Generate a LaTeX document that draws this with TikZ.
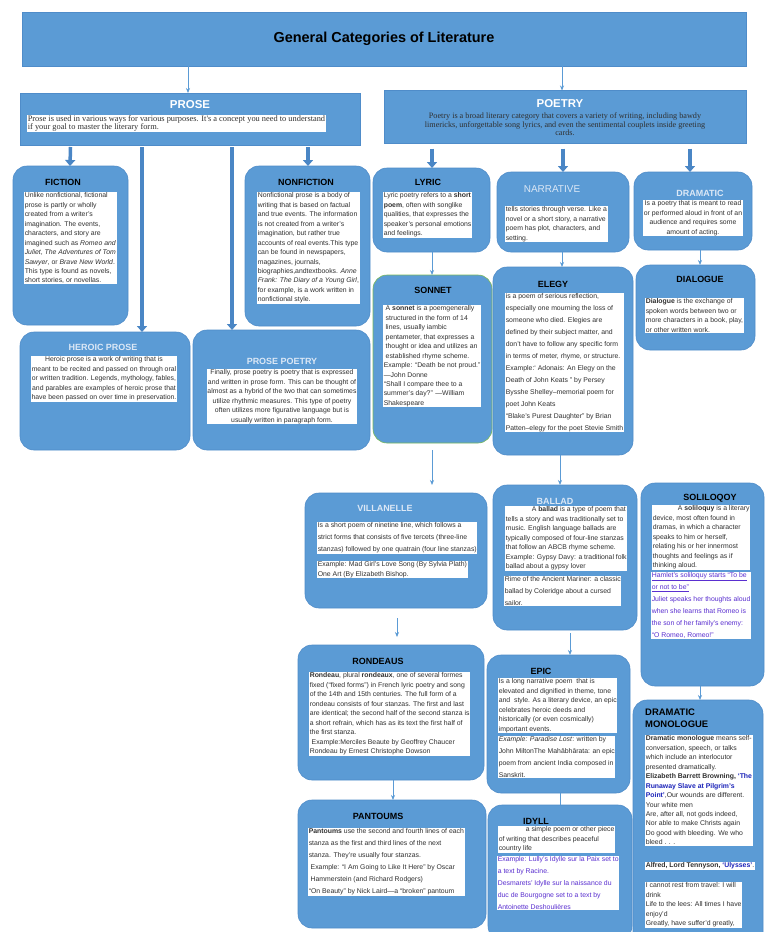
\documentclass[tikz,border=0pt]{standalone}
\usepackage{fontspec}
\setmainfont{Liberation Sans}
\newfontfamily\serifx{Liberation Serif}
\usetikzlibrary{arrows.meta}
\definecolor{boxblue}{HTML}{5B9BD5}
\definecolor{boxline}{HTML}{4F8CC9}
\definecolor{arrblue}{HTML}{4A86C5}
\definecolor{lighttitle}{HTML}{DCE8F6}
\definecolor{txt}{HTML}{303030}
\definecolor{linkpurple}{HTML}{5A2FD0}
\definecolor{linkblue}{HTML}{1A22B8}
\newcommand\mkbox[5]{\node[box,minimum width={(#4-#2)*1bp},minimum height={(#5-#3)*1bp}] (#1) at ({(#2+#4)/2},{(#3+#5)/2}) {};}
\begin{document}
\begin{tikzpicture}[x=1bp,y=-1bp,
  box/.style={draw=boxline,fill=boxblue,rounded corners=14bp,inner sep=0pt,outer sep=0pt,line width=0.6bp},
  sqbox/.style={draw=boxline,fill=boxblue,inner sep=0pt,outer sep=0pt,line width=0.6bp},
  ttl/.style={font=\fontsize{9}{10.5}\selectfont\bfseries,text=black,inner sep=0pt},
  lttl/.style={ttl,text=lighttitle},
  body/.style={font=\fontsize{6.9}{9.5}\selectfont,text=txt,fill=white,inner sep=0.6pt,align=left,anchor=north west},
  cbody/.style={body,align=center,anchor=north},
  sbody/.style={body,font=\fontsize{6.9}{12}\selectfont},
  thin/.style={draw=boxblue,line width=0.7bp,-{Stealth[length=5bp,width=4bp]}},
  thick/.style={draw=arrblue,line width=3.5bp,-{Triangle[length=6bp,width=10bp]}}]
\useasboundingbox (0,0) rectangle (768,932);
\fill[white] (0,0) rectangle (768,932);
% title and top level
\node[sqbox,minimum width=724bp,minimum height=54bp] (title) at (384,39) {};
\node[ttl,font=\fontsize{14.5}{16}\selectfont\bfseries] (titletxt) at (384,39) {General Categories of Literature};
\node[sqbox,minimum width=340bp,minimum height=52bp] (prose) at (190,119) {};
\node[ttl,text=white,font=\fontsize{11.5}{13}\selectfont\bfseries] (prosettl) at (190,105) {PROSE};
\node[body,font=\serifx\fontsize{8.4}{8.2}\selectfont] (prosetxt) at (27,115) {Prose is used in various ways for various purposes. It's a concept you need to understand\\if your goal to master the literary form.};
\node[sqbox,minimum width=362bp,minimum height=53bp] (poetry) at (565,117) {};
\node[ttl,text=white,font=\fontsize{11.5}{13}\selectfont\bfseries] (poetryttl) at (560,104) {POETRY};
\node[cbody,font=\serifx\fontsize{8.2}{8.6}\selectfont,fill=none,text=txt] (poetrytxt) at (565,112) {Poetry is a broad literary category that covers a variety of writing, including bawdy\\limericks, unforgettable song lyrics, and even the sentimental couplets inside greeting\\cards.};
\draw[thin] (title.south -| 188,0) -- (prose.north -| 188,0);
\draw[thin] (title.south -| 562,0) -- (poetry.north -| 562,0);

% prose children
\mkbox{fiction}{13}{166}{128}{325}
\node[ttl] (fictionttl) at (63,182) {FICTION};
\node[body] (fictiontxt) at (24,192) {Unlike nonfictional, fictional\\prose is partly or wholly\\created from a writer's\\imagination. The events,\\characters, and story are\\imagined such as \textit{Romeo and}\\\textit{Juliet}, \textit{The Adventures of Tom}\\\textit{Sawyer}, or \textit{Brave New World}.\\This type is found as novels,\\short stories, or novellas.};
\mkbox{nonfiction}{245}{166}{370}{326}
\node[ttl] (nonfictionttl) at (306,182) {NONFICTION};
\node[body] (nonfictiontxt) at (257,192) {Nonfictional prose is a body of\\writing that is based on factual\\and true events. The information\\is not created from a writer's\\imagination, but rather true\\accounts of real events.This type\\can be found in newspapers,\\magazines, journals,\\biographies,andtextbooks. \textit{Anne}\\\textit{Frank: The Diary of a Young Girl},\\for example, is a work written in\\nonfictional style.};
\mkbox{heroic}{20}{332}{190}{450}
\node[lttl] (heroicttl) at (103,347) {HEROIC PROSE};
\node[cbody] (heroictxt) at (104,356) {Heroic prose is a work of writing that is\\meant to be recited and passed on through oral\\or written tradition. Legends, mythology, fables,\\and parables are examples of heroic prose that\\have been passed on over time in preservation.};
\mkbox{prosepoetry}{193}{330}{370}{450}
\node[lttl] (ppttl) at (282,361) {PROSE POETRY};
\node[cbody] (pptxt) at (282,369) {Finally, prose poetry is poetry that is expressed\\and written in prose form. This can be thought of\\almost as a hybrid of the two that can sometimes\\utilize rhythmic measures. This type of poetry\\often utilizes more figurative language but is\\usually written in paragraph form.};
\draw[thick] (prose.south -| fiction.north) ++(0,2) -- (fiction.north -| 70,0);
\draw[thick] (prose.south -| 308,0) ++(0,2) -- (nonfiction.north -| 308,0);
\draw[thick] (prose.south -| 142,0) ++(0,2) -- (heroic.north -| 142,0);
\draw[thick] (prose.south -| 232,0) ++(0,2) -- (prosepoetry.north -| 232,0);

% poetry children
\mkbox{lyric}{373}{168}{490}{252}
\node[ttl] (lyricttl) at (428,182) {LYRIC};
\node[body] (lyrictxt) at (383,192) {Lyric poetry refers to a \textbf{short}\\\textbf{poem}, often with songlike\\qualities, that expresses the\\speaker's personal emotions\\and feelings.};
\mkbox{narrative}{497}{172}{629}{252}
\node[lttl,font=\fontsize{10}{11}\selectfont] (narrttl) at (552,189) {NARRATIVE};
\node[body] (narrtxt) at (505,206) {tells stories through verse. Like a\\novel or a short story, a narrative\\poem has plot, characters, and\\setting.};
\mkbox{dramatic}{634}{172}{752}{250}
\node[lttl] (dramttl) at (700,193) {DRAMATIC};
\node[cbody] (dramtxt) at (693,200) {Is a poetry that is meant to read\\or performed aloud in front of an\\audience and requires some\\amount of acting.};
\draw[thick] (poetry.south -| 432,0) ++(0,5) -- (lyric.north -| 432,0);
\draw[thick] (poetry.south -| 563,0) ++(0,5) -- (narrative.north -| 563,0);
\draw[thick] (poetry.south -| 690,0) ++(0,5) -- (dramatic.north -| 690,0);

\node[box,draw={rgb,255:red,120;green,185;blue,90},minimum width=119bp,minimum height=168bp] (sonnet) at (432.5,359) {};
\node[ttl] (sonnetttl) at (433,290) {SONNET};
\node[body] (sonnettxt) at (383,305) {\ A \textbf{sonnet} is a poemgenerally\\\ structured in the form of 14\\\ lines, usually iambic\\\ pentameter, that expresses a\\\ thought or idea and utilizes an\\\ established rhyme scheme.\\Example: ``Death be not proud.''\\---John Donne\\``Shall I compare thee to a\\summer's day?'' ---William\\Shakespeare};
\mkbox{elegy}{493}{267}{633}{455}
\node[ttl] (elegyttl) at (553,284) {ELEGY};
\node[sbody] (elegytxt) at (505,293) {is a poem of serious reflection,\\especially one mourning the loss of\\someone who died. Elegies are\\defined by their subject matter, and\\don't have to follow any specific form\\in terms of meter, rhyme, or structure.\\Example:` Adonais: An Elegy on the\\Death of John Keats '' by Persey\\Bysshe Shelley--memorial poem for\\poet John Keats\\``Blake's Purest Daughter'' by Brian\\Patten--elegy for the poet Stevie Smith};
\mkbox{dialogue}{636}{265}{755}{350}
\node[ttl] (dialttl) at (700,279) {DIALOGUE};
\node[body] (dialtxt) at (645,298) {\textbf{Dialogue} is the exchange of\\spoken words between two or\\more characters in a book, play,\\or other written work.};
\draw[thin] (lyric.south -| 432,0) -- (sonnet.north -| 432,0);
\draw[thin] (narrative.south -| 562,0) -- (elegy.north -| 562,0);
\draw[thin] (dramatic.south -| 700,0) -- (dialogue.north -| 700,0);

% third level
\mkbox{villanelle}{305}{493}{487}{608}
\node[lttl] (villttl) at (385,508) {VILLANELLE};
\node[sbody] (villtxt) at (317,522) {Is a short poem of ninetine line, which follows a\\strict forms that consists of five tercets (three-line\\stanzas) followed by one quatrain (four line stanzas)};
\node[body] (villtxt2) at (317,561) {Example: Mad Girl's Love Song (By Sylvia Plath)\\One Art (By Elizabeth Bishop.};
\mkbox{ballad}{493}{485}{637}{630}
\node[lttl] (balladttl) at (555,501) {BALLAD};
\node[body] (balladtxt) at (505,506) {\hspace{26bp}A \textbf{ballad} is a type of poem that\\tells a story and was traditionally set to\\music. English language ballads are\\typically composed of four-line stanzas\\that follow an ABCB rhyme scheme.\\Example: Gypsy Davy: a traditional folk\\ballad about a gypsy lover};
\node[sbody] (balladtxt2) at (504,576) {Rime of the Ancient Mariner: a classic\\ballad by Coleridge about a cursed\\sailor.};
\mkbox{soliloquy}{641}{483}{764}{686}
\node[ttl] (solttl) at (710,498) {SOLILOQOY};
\node[body] (soltxt) at (652,505) {\hspace{25bp}A \textbf{soliloquy} is a literary\\device, most often found in\\dramas, in which a character\\speaks to him or herself,\\relating his or her innermost\\thoughts and feelings as if\\thinking aloud.};
\node[sbody,text=linkpurple] (soltxt2) at (651,572) {\underline{Hamlet's soliloquy starts ``To be}\\\underline{or not to be''}\\Juliet speaks her thoughts aloud\\when she learns that Romeo is\\the son of her family's enemy:\\``O Romeo, Romeo!''};
\draw[thin] (sonnet.south -| 432,0) ++(0,7) -- ++(0,35);
\draw[thin] (elegy.south -| 560,0) -- (ballad.north -| 560,0);

\mkbox{rondeaus}{298}{645}{484}{780}
\node[ttl] (rondttl) at (378,661) {RONDEAUS};
\node[body] (rondtxt) at (309,672) {\textbf{Rondeau}, plural \textbf{rondeaux}, one of several formes\\fixed (``fixed forms'') in French lyric poetry and song\\of the 14th and 15th centuries. The full form of a\\rondeau consists of four stanzas. The first and last\\are identical; the second half of the second stanza is\\a short refrain, which has as its text the first half of\\the first stanza.\\\ Example:Merciles Beaute by Geoffrey Chaucer\\Rondeau by Ernest Christophe Dowson};
\mkbox{epic}{487}{655}{630}{793}
\node[ttl] (epicttl) at (541,671) {EPIC};
\node[body] (epictxt) at (498,678) {Is a long narrative poem\ \ that is\\elevated and dignified in theme, tone\\and\ \ style. As a literary device, an epic\\celebrates heroic deeds and\\historically (or even cosmically)\\important events.};
\node[sbody] (epictxt2) at (498,736) {\textit{Example: Paradise Lost}: written by\\John MiltonThe Mahābhārata: an epic\\poem from ancient India composed in\\Sanskrit.};
\mkbox{dm}{633}{700}{763}{960}
\node[ttl,align=left,anchor=north west,font=\fontsize{9.5}{11.5}\selectfont\bfseries] (dmttl) at (645,709) {DRAMATIC\\MONOLOGUE};
\node[body] (dmtxt) at (645,735) {\textbf{Dramatic monologue} means self-\\conversation, speech, or talks\\which include an interlocutor\\presented dramatically.\\\textbf{Elizabeth Barrett Browning, \textcolor{linkblue}{`The}}\\\textbf{\textcolor{linkblue}{Runaway Slave at Pilgrim's}}\\\textbf{\textcolor{linkblue}{Point'}},Our wounds are different.\\Your white men\\Are, after all, not gods indeed,\\Nor able to make Christs again\\Do good with bleeding. We who\\bleed . . .};
\node[body] (dmtxt2) at (645,862) {\textbf{Alfred, Lord Tennyson, \textcolor{linkblue}{`Ulysses'}}.};
\node[body] (dmtxt3) at (645,882) {I cannot rest from travel: I will\\drink\\Life to the lees: All times I have\\enjoy'd\\Greatly, have suffer'd greatly,};
\draw[thin] (villanelle.south -| 397,0) ++(0,10) -- ++(0,19);
\draw[thin] (ballad.south -| 570,0) ++(0,3) -- (epic.north -| 570,0);
\draw[thin] (soliloquy.south -| 700,0) -- (dm.north -| 700,0);

\mkbox{pantoums}{298}{800}{486}{928}
\node[ttl] (pantttl) at (378,816) {PANTOUMS};
\node[sbody] (panttxt) at (308,828) {\textbf{Pantoums} use the second and fourth lines of each\\stanza as the first and third lines of the next\\stanza. They're usually four stanzas.\\\ Example: ``I Am Going to Like It Here'' by Oscar\\\ Hammerstein (and Richard Rodgers)\\``On Beauty'' by Nick Laird---a ``broken'' pantoum};
\mkbox{idyll}{488}{805}{632}{940}
\node[ttl] (idyllttl) at (536,821) {IDYLL};
\node[body] (idylltxt) at (498,826) {\hspace{27bp}a simple poem or other piece\\of writing that describes peaceful\\country life};
\node[sbody,text=linkpurple] (idylltxt2) at (497,856) {Example: Lully's Idylle sur la Paix set to\\a text by Racine.\\Desmarets' Idylle sur la naissance du\\duc de Bourgogne set to a text by\\Antoinette Deshoulières};
\draw[thin] (rondeaus.south -| 393,0) -- (pantoums.north -| 393,0);
\draw[draw=boxblue,line width=0.7bp] (epic.south -| 560,0) -- (idyll.north -| 560,0);
\end{tikzpicture}
\end{document}
